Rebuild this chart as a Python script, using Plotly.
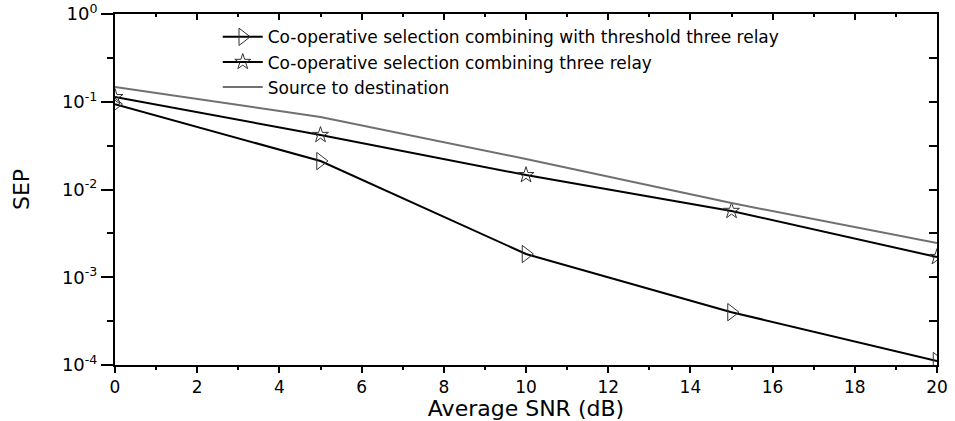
import plotly.graph_objects as go

snr = [0, 5, 10, 15, 20]
sep_threshold = [0.094, 0.0211, 0.00184, 0.00040, 0.000111]
sep_three_relay = [0.113, 0.0418, 0.0146, 0.0057, 0.0017]
sep_direct = [0.147, 0.067, 0.0223, 0.0070, 0.00245]

names = [
    "Co-operative selection combining with threshold three relay",
    "Co-operative selection combining three relay",
    "Source to destination",
]
y_tickvals = [1e-4, 1e-3, 1e-2, 1e-1, 1]
y_ticktext = ["10<sup>-4</sup>", "10<sup>-3</sup>", "10<sup>-2</sup>", "10<sup>-1</sup>", "10<sup>0</sup>"]
y_minor = [10 ** -3.5, 10 ** -2.5, 10 ** -1.5, 10 ** -0.5]
x_tickvals = [0, 2, 4, 6, 8, 10, 12, 14, 16, 18, 20]
x_minor = [1, 3, 5, 7, 9, 11, 13, 15, 17, 19]

FONT = "DejaVu Sans, Liberation Sans, Arial, sans-serif"

fig = go.Figure()
fig.add_trace(go.Scatter(
    x=snr, y=sep_threshold, name=names[0], mode="lines+markers",
    line=dict(color="black", width=2),
    marker=dict(symbol="triangle-right-open", size=15, color="#333", line=dict(width=1)),
))
fig.add_trace(go.Scatter(
    x=snr, y=sep_three_relay, name=names[1], mode="lines+markers",
    line=dict(color="black", width=2),
    marker=dict(symbol="star-open", size=12, color="#333", line=dict(width=1)),
))
fig.add_trace(go.Scatter(
    x=snr, y=sep_direct, name=names[2], mode="lines",
    line=dict(color="#707070", width=2),
))
# invisible trace to anchor mirrored axes
fig.add_trace(go.Scatter(x=[0], y=[0.01], xaxis="x2", yaxis="y2", mode="markers",
                         marker=dict(opacity=0), showlegend=False, hoverinfo="skip"))

fig.update_layout(
    width=955, height=421,
    margin=dict(l=115, r=18, t=14, b=56, autoexpand=False),
    paper_bgcolor="white", plot_bgcolor="white",
    font=dict(family=FONT, color="black"),
    showlegend=True,
    legend=dict(x=0.125, y=0.985, xanchor="left", yanchor="top",
                bgcolor="rgba(0,0,0,0)", font=dict(size=17, family=FONT),
                tracegroupgap=0, itemwidth=40),
    xaxis=dict(
        range=[0, 20], showgrid=False, zeroline=False, automargin=False,
        showline=True, linecolor="black", linewidth=2,
        ticks="outside", ticklen=6, tickwidth=2, tickcolor="black",
        tickmode="array", tickvals=x_tickvals, ticktext=[str(v) for v in x_tickvals],
        tickfont=dict(size=17, family=FONT),
        minor=dict(tickmode="array", tickvals=x_minor, ticks="outside", ticklen=3, tickwidth=2, tickcolor="black"),
        title=dict(text="Average SNR (dB)", font=dict(size=22, family=FONT), standoff=6),
    ),
    yaxis=dict(
        type="log", range=[-4, 0], showgrid=False, zeroline=False, automargin=False,
        showline=True, linecolor="black", linewidth=2,
        ticks="outside", ticklen=12, tickwidth=2, tickcolor="black",
        tickmode="array", tickvals=y_tickvals, ticktext=y_ticktext,
        tickfont=dict(size=18, family=FONT),
        minor=dict(tickmode="array", tickvals=y_minor, ticks="outside", ticklen=6, tickwidth=2, tickcolor="black"),
        title=dict(text="SEP", font=dict(size=22, family=FONT), standoff=26),
    ),
    xaxis2=dict(
        overlaying="x", side="top", anchor="y", range=[0, 20], automargin=False,
        showgrid=False, zeroline=False, showline=True, linecolor="black", linewidth=2,
        ticks="inside", ticklen=6, tickwidth=2, tickcolor="black",
        tickmode="array", tickvals=x_tickvals, showticklabels=False,
        minor=dict(tickmode="array", tickvals=x_minor, ticks="inside", ticklen=3, tickwidth=2, tickcolor="black"),
    ),
    yaxis2=dict(
        overlaying="y", side="right", anchor="x", type="log", range=[-4, 0], automargin=False,
        showgrid=False, zeroline=False, showline=True, linecolor="black", linewidth=2,
        ticks="inside", ticklen=8, tickwidth=2, tickcolor="black",
        tickmode="array", tickvals=y_tickvals, showticklabels=False,
        minor=dict(tickmode="array", tickvals=y_minor, ticks="inside", ticklen=8, tickwidth=2, tickcolor="black"),
    ),
)

fig.write_html("out.html")
